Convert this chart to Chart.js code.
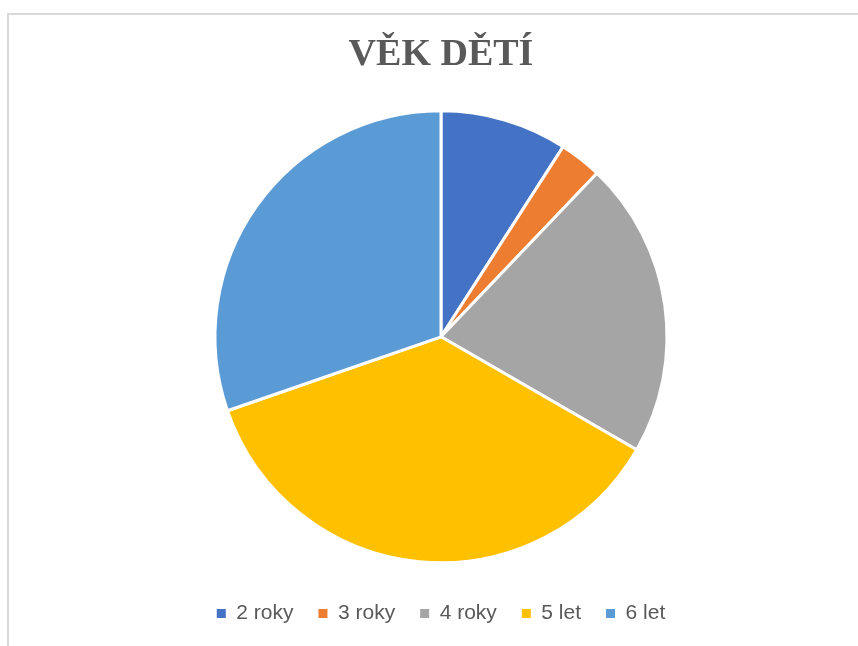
<!DOCTYPE html>
<html>
<head>
<meta charset="utf-8">
<script src="https://cdn.jsdelivr.net/npm/chart.js@4.4.0/dist/chart.umd.min.js"></script>
<style>
  html, body { margin: 0; padding: 0; background: #fff; overflow: hidden; }
  #wrap { position: relative; width: 858px; height: 646px; }
  #frame { position: absolute; left: 7px; top: 13px; right: -5px; bottom: -5px;
           border-left: 2px solid #d9d9d9; border-top: 2px solid #d9d9d9; pointer-events: none; }
</style>
</head>
<body>
<div id="wrap">
  <canvas id="pieChart"></canvas>
  <div id="frame"></div>
</div>
<script>
const title = 'VĚK DĚTÍ';
const categories = ['2 roky', '3 roky', '4 roky', '5 let', '6 let'];
const counts = [3, 1, 7, 12, 10];
const sliceColors = ['#4472C4', '#ED7D31', '#A5A5A5', '#FFC000', '#5B9BD5'];

new Chart(document.getElementById('pieChart'), {
  type: 'pie',
  data: {
    labels: categories,
    datasets: [{
      data: counts,
      backgroundColor: sliceColors,
      borderColor: '#ffffff',
      borderWidth: 3,
      radius: 226
    }]
  },
  options: {
    responsive: true,
    maintainAspectRatio: false,
    animation: false,
    layout: { padding: { left: 24, top: 0, right: 0, bottom: 12 } },
    plugins: {
      title: {
        display: true,
        text: title,
        color: '#595959',
        font: { family: '"Liberation Serif", "Times New Roman", serif', size: 38, weight: 'bold' },
        padding: { top: 32, bottom: 18 }
      },
      legend: {
        position: 'bottom',
        labels: {
          color: '#595959',
          font: { family: '"Liberation Sans", Arial, sans-serif', size: 21 },
          boxWidth: 9,
          boxHeight: 9,
          padding: 25,
          generateLabels: function(chart) {
            // plain squares, no white outline
            const items = Chart.controllers.pie.overrides.plugins.legend.labels.generateLabels(chart);
            items.forEach(item => { item.lineWidth = 0; item.strokeStyle = item.fillStyle; });
            return items;
          }
        }
      },
      tooltip: { enabled: false }
    }
  }
});
</script>
</body>
</html>
